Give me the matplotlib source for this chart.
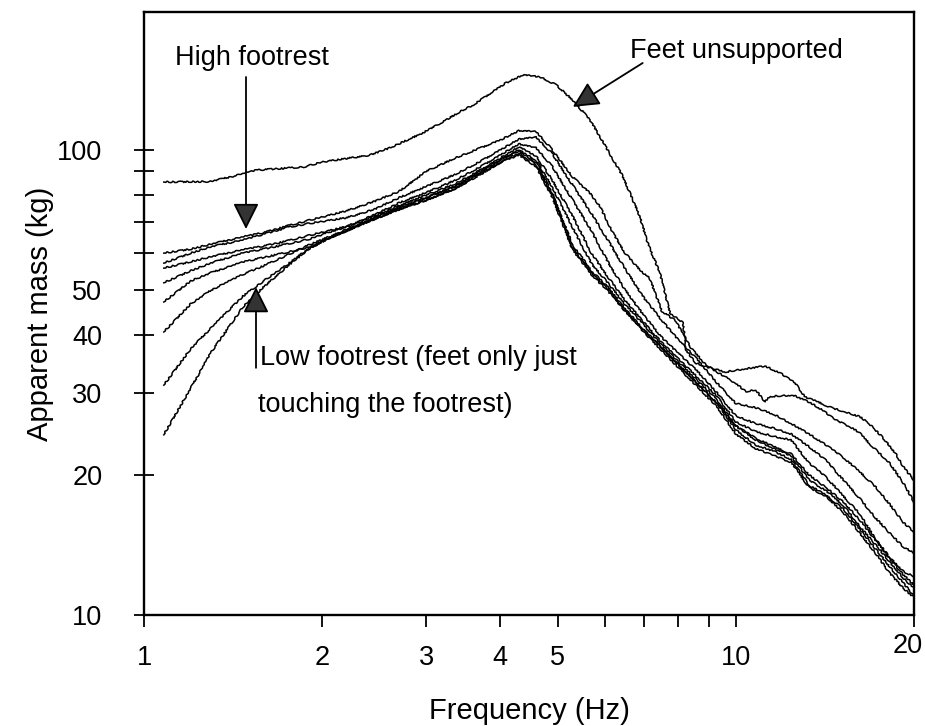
import matplotlib
matplotlib.use('Agg')
import matplotlib.pyplot as plt
from matplotlib.ticker import FixedLocator, FixedFormatter, NullLocator

plt.rcParams['font.family'] = ['Liberation Sans', 'DejaVu Sans']

# feet unsupported
f_unsup = [1.08, 1.29, 1.4, 1.55, 1.86, 2.0, 2.41, 2.6, 2.96, 3.2, 3.46, 3.6, 4.09, 4.37,
           4.67, 4.97, 5.3, 5.67, 6.03, 6.45, 6.88, 7.1, 7.44, 7.74, 8.14, 8.23, 8.55,
           8.9, 9.6, 10.3, 11.2, 11.9, 12.6, 13.1, 13.7, 14.4, 15.2, 16.2, 16.8, 17.7,
           18.6, 19.2, 20.0]
m_unsup = [85.3, 85.5, 87.5, 90.5, 91.9, 94.2, 97.5, 101, 108.8, 115, 121.9, 125, 139.4, 145,
           143.6, 138, 128.1, 116, 101.5, 87.5, 72, 63, 54.4, 44.6, 42.5, 37.2, 34.8,
           34.2, 33.3, 33.8, 34.3, 33.1, 31.5, 29.4, 28.8, 28.0, 27.4, 26.7, 25.8, 24.1,
           22.3, 20.8, 19.5]

# high footrest (upper of the supported group)
f_high = [1.08, 1.2, 1.3, 1.47, 1.6, 1.75, 1.9, 2.05, 2.2, 2.45, 2.7, 3.0, 3.35, 3.7, 4.0,
          4.3, 4.6, 4.85, 5.05, 5.3, 5.67, 5.9, 6.2, 6.5, 6.9, 7.15, 7.5, 7.9, 8.4, 8.9,
          9.4, 10.0, 10.4, 10.8, 11.2, 11.4, 12.5, 13.3, 14.0, 14.7, 15.6, 16.2, 16.8,
          18.2, 19.2, 20.0]
m_high = [60, 61.2, 62.8, 65, 66.5, 68.7, 70.6, 72.3, 74, 77.5, 81.5, 90, 96, 101, 105,
          110, 109.5, 101.5, 95, 87.5, 80.7, 75.4, 66.3, 60, 55, 53, 45, 43, 37.5, 34.5,
          33, 31.5, 30.2, 30.5, 28.7, 29.5, 29.7, 28.7, 27.6, 26.3, 25.4, 24.6, 23.4,
          21.2, 19.2, 17.5]

# remaining footrest heights share one frequency grid
freq = [1.08, 1.2, 1.3, 1.47, 1.6, 1.75, 1.9, 2.05, 2.2, 2.45, 2.7, 3.0, 3.35, 3.7, 4.0,
        4.3, 4.6, 4.9, 5.3, 5.7, 6.1, 6.5, 7.0, 7.5, 8.0, 8.6, 9.3, 10.0, 10.8, 11.6,
        12.4, 13.3, 14.2, 15.2, 16.2, 17.2, 18.2, 19.2, 20.0]
m_b = [57.1, 60, 62, 64, 66, 68.2, 69.5, 70.5, 71.5, 74.5, 79, 83.5, 88.5, 94.5, 100,
       105.5, 106.5, 98, 84, 73, 63.5, 55.5, 48, 43, 39, 35.5, 31.5, 28.5, 27.9, 27.0,
       25.8, 24.5, 23.2, 21.8, 20.3, 18.9, 17.3, 15.8, 15.1]
m_c = [55.7, 57.5, 59, 61, 62.2, 63.8, 65.5, 67, 68.5, 72.5, 77, 81, 86, 92, 97.5,
       103, 101, 92, 78, 67, 57, 50, 44, 39.5, 36.5, 33.5, 30, 26.8, 25.8, 25.2,
       24.5, 23, 21.5, 19.5, 17.8, 16.2, 15, 14, 13.6]
m_d = [51.8, 55, 57.2, 60, 61.3, 62.8, 64.3, 66.5, 68.3, 72, 76, 80, 84.5, 90.5, 96,
       101.5, 97, 86, 72, 60, 53, 47.5, 42.5, 38.5, 35.5, 32.5, 29.5, 26, 24.8, 24.2,
       23.8, 21.2, 19.8, 18, 16.5, 14.6, 13.3, 12.4, 12.1]
m_e = [47.1, 52.3, 54.5, 57.4, 58.8, 60.3, 61.8, 64.5, 67, 71.5, 75.5, 79, 83.5, 89.5, 95,
       100, 95, 83, 68, 57, 51.5, 46.5, 42, 38, 35, 32, 29, 25.5, 23.8, 22.8,
       22.0, 19.5, 18.5, 17.2, 15.5, 14.2, 13, 12, 11.4]
m_f = [40.6, 46.7, 50, 54, 56.5, 59.5, 62.5, 65, 67.5, 71, 74.5, 78, 82.5, 89, 94,
       98.5, 93, 80, 62.5, 55, 50.5, 45.5, 41, 37.5, 34.5, 31.5, 28.5, 25, 23.2, 22.5,
       21.6, 19, 18.1, 16.9, 15.3, 13.9, 12.7, 11.7, 11.0]
m_g = [31.2, 37.4, 41.5, 48.5, 52.5, 56.8, 61.5, 64.5, 67, 71.5, 75, 79, 83.5, 90, 95.5,
       99.5, 94, 80.5, 61.5, 54.5, 50, 45, 40.5, 37, 34, 31, 28, 24.5, 22.8, 22.0,
       21.3, 18.8, 18, 16.6, 15, 13.6, 12.3, 11.4, 10.9]
m_h = [24.4, 30.8, 36.8, 46, 51, 56.3, 61.3, 64.5, 67, 71, 74.5, 78, 82.5, 88.5, 94,
       97.5, 92, 79, 61, 54, 49.5, 45, 40.8, 37.5, 34.5, 31.5, 28.5, 25.5, 24, 23,
       22.2, 20, 18.8, 17.5, 16, 14.5, 13.2, 12.2, 11.6]

xticks = [1, 2, 3, 4, 5, 6, 7, 8, 9, 10, 20]
xticklabels = ['1', '2', '3', '4', '5', '', '', '', '', '10', '']
yticks = [10, 20, 30, 40, 50, 60, 70, 80, 90, 100]
yticklabels = ['10', '20', '30', '40', '50', '', '', '', '', '100']

fig = plt.figure(figsize=(9.25, 7.26), dpi=100)
ax = fig.add_axes([0.1557, 0.1529, 0.8324, 0.8306])

lw = 1.1
lines = ax.plot(f_unsup, m_unsup, color='black', lw=lw)
lines += ax.plot(f_high, m_high, color='black', lw=lw)
for m in [m_b, m_c, m_d, m_e, m_f, m_g, m_h]:
    lines += ax.plot(freq, m, color='black', lw=lw)
# scanned, hand-traced look
for ln in lines:
    ln.set_sketch_params(scale=0.7, length=5, randomness=6)

ax.set_xscale('log')
ax.set_yscale('log')
ax.set_xlim(1, 20)
ax.set_ylim(10, 198)

ax.xaxis.set_major_locator(FixedLocator(xticks))
ax.xaxis.set_major_formatter(FixedFormatter(xticklabels))
ax.xaxis.set_minor_locator(NullLocator())
ax.yaxis.set_major_locator(FixedLocator(yticks))
ax.yaxis.set_major_formatter(FixedFormatter(yticklabels))
ax.yaxis.set_minor_locator(NullLocator())

ax.tick_params(axis='x', direction='out', length=8.5, width=1.3, pad=13, labelsize=19.5)
ax.tick_params(axis='y', direction='inout', length=14, width=1.3, pad=23, labelsize=19.5)
for s in ax.spines.values():
    s.set_linewidth(1.7)

# the "20" label sits a bit left and higher than the others
ax.annotate('20', xy=(20, 0), xycoords=('data', 'axes fraction'), xytext=(-4.5, -22.5),
            textcoords='offset points', ha='center', va='center', fontsize=19.5)

ax.set_xlabel('Frequency (Hz)', fontsize=21, labelpad=19)
ax.set_ylabel('Apparent mass (kg)', fontsize=21, labelpad=2)

arrow = dict(arrowstyle='-|>,head_length=0.8,head_width=0.4', mutation_scale=20,
             color='black', lw=1.3, shrinkA=0, shrinkB=0, fc='#333333')
ax.annotate('', xy=(1.487, 67.6), xytext=(1.487, 143.5), arrowprops=arrow)
ax.annotate('', xy=(1.546, 50.7), xytext=(1.546, 34.0), arrowprops=arrow)
ax.annotate('', xy=(5.305, 123.8), xytext=(6.96, 153.8), arrowprops=arrow)

ax.text(1.522, 158, 'High footrest', ha='center', va='center', fontsize=19.5)
ax.text(10.04, 163.3, 'Feet unsupported', ha='center', va='center', fontsize=19.5)
ax.text(1.57, 35.7, 'Low footrest (feet only just', ha='left', va='center', fontsize=19.5)
ax.text(1.557, 28.3, 'touching the footrest)', ha='left', va='center', fontsize=19.5)

fig.savefig('out.png', dpi=100)
